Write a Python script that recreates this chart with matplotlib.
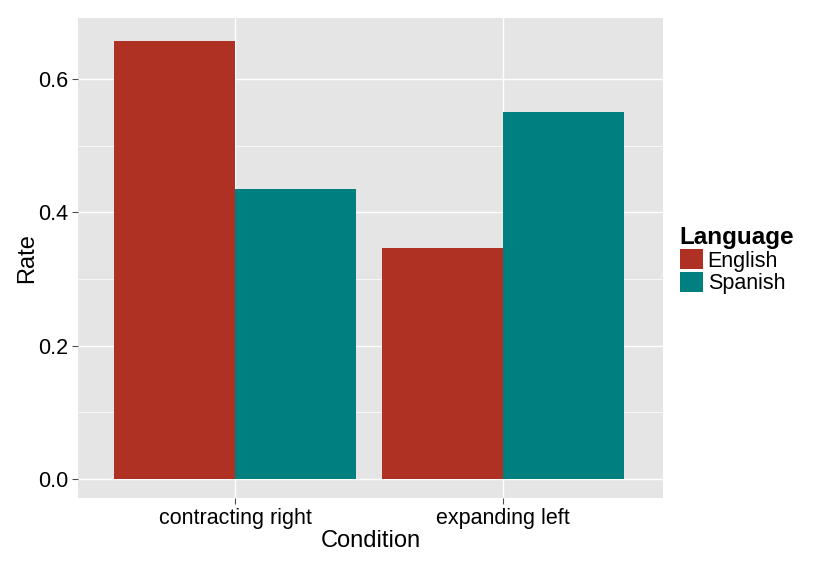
import matplotlib
matplotlib.use("Agg")
import matplotlib.pyplot as plt
from matplotlib.patches import Patch
import numpy as np

plt.rcParams['font.family'] = ['Liberation Sans', 'DejaVu Sans']

conditions = ["contracting right", "expanding left"]
languages = ["English", "Spanish"]
rates = {
    "English": [0.657, 0.346],
    "Spanish": [0.435, 0.551],
}
colors = {"English": "#AE3123", "Spanish": "#007F80"}

fig = plt.figure(figsize=(8.31, 5.62), dpi=100)
ax = fig.add_axes([0.0939, 0.1139, 0.7040, 0.8541])
ax.set_facecolor("#E5E5E5")

x = np.arange(1, len(conditions) + 1)
w = 0.45
for i, lang in enumerate(languages):
    ax.bar(x + (i - 0.5) * w, rates[lang], width=w, color=colors[lang],
           linewidth=0, zorder=3)

ax.set_xlim(0.414, 2.597)
ax.set_ylim(-0.0285, 0.6915)
ax.set_xticks(x)
ax.set_xticklabels(conditions)
ax.set_yticks([0.0, 0.2, 0.4, 0.6])
ax.set_yticklabels(["0.0", "0.2", "0.4", "0.6"])
ax.set_yticks([0.1, 0.3, 0.5], minor=True)
ax.grid(True, which="major", color="white", linewidth=1.0, zorder=1)
ax.grid(True, which="minor", axis="y", color="white", linewidth=0.5, zorder=1)
for s in ax.spines.values():
    s.set_visible(False)
ax.tick_params(axis="both", which="major", labelsize=15.5, colors="#4D4D4D",
               length=4, width=0.8, labelcolor="black", pad=3)
ax.tick_params(axis="y", which="minor", length=0)

ax.set_xlabel("Condition", fontsize=17, labelpad=1)
ax.set_ylabel("Rate", fontsize=17, labelpad=0)

handles = [Patch(facecolor=colors[l], edgecolor="none", label=l) for l in languages]
leg = fig.legend(handles=handles, title="Language", loc="center left",
                 bbox_to_anchor=(0.818, 0.537), frameon=False, fontsize=15.5,
                 title_fontsize=17.5, handlelength=1.1, handleheight=1.05,
                 handletextpad=0.2, labelspacing=0.0, borderaxespad=0,
                 borderpad=0)
leg.get_title().set_fontweight("bold")
leg._legend_box.align = "left"

fig.savefig("out.png", dpi=100)
